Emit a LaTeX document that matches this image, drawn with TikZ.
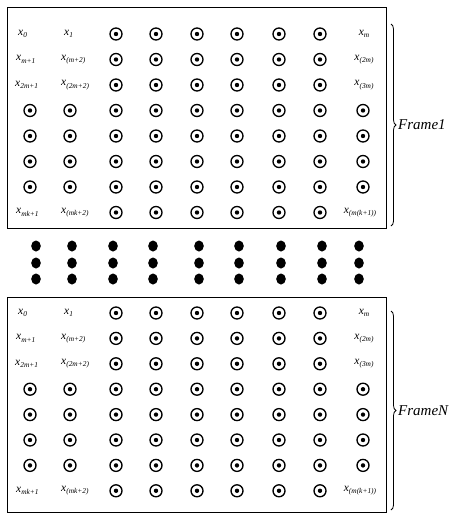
\documentclass[tikz,border=0pt]{standalone}
\usepackage{fontspec}
\setmainfont{Liberation Serif}
\usetikzlibrary{decorations.pathreplacing,shapes.geometric}
\newcommand{\xl}[1]{{\fontsize{11.5}{11.5}\selectfont\itshape x\raisebox{-2.4pt}{\fontsize{7.4}{7.4}\selectfont #1}}}
\begin{document}
\begin{tikzpicture}[x=1pt,y=-1pt,
  ring/.style={circle,draw,line width=1.35pt,minimum size=12pt,inner sep=0pt,
    path picture={\fill (path picture bounding box.center) circle (2.2pt);}},
  bigdot/.style={ellipse,fill,minimum width=9.6pt,minimum height=11pt,inner sep=0pt},
  framebox/.style={draw,line width=1pt},
  lblw/.style={anchor=west,inner sep=0pt},
  lblc/.style={anchor=center,inner sep=0pt},
  bracestyle/.style={decorate,decoration={brace,amplitude=5pt},line width=0.8pt},
  frametxt/.style={anchor=west,inner sep=0pt,font=\fontsize{15}{15}\selectfont\itshape}]
\useasboundingbox (0,0) rectangle (455,517);
\def\colx{{30,70,116,156,197,237,279,320,363}}
% frame drawing macro: #1 name, #2 top, #3 bottom, #4 first row y, #5 row step, #6 brace top, #7 text
\newcommand{\drawframe}[7]{%
  \draw[framebox] (7,#2) rectangle (386,#3);
  \foreach \r in {1,...,8}{
    \foreach \c in {1,...,9}{
      \pgfmathtruncatemacro\islab{((\r<4)||(\r==8))&&((\c<3)||(\c==9))}
      \pgfmathsetmacro\cx{\colx[\c-1]}
      \pgfmathsetmacro\ry{#4+(\r-1)*#5}
      \ifnum\islab=0
        \node[ring] (#1-\r-\c) at (\cx,\ry) {};
      \fi
    }
  }
  \pgfmathsetmacro\ya{#4}
  \pgfmathsetmacro\yb{#4+#5}
  \pgfmathsetmacro\yc{#4+2*#5}
  \pgfmathsetmacro\yd{#4+7*#5}
  \node[lblw] (#1-1-1) at (18,\ya) {\xl{0}};
  \node[lblw] (#1-1-2) at (64,\ya) {\xl{1}};
  \node[lblc] (#1-1-9) at (364,\ya) {\xl{m}};
  \node[lblw] (#1-2-1) at (16,\yb) {\xl{m+1}};
  \node[lblw] (#1-2-2) at (61,\yb) {\xl{(m+2)}};
  \node[lblc] (#1-2-9) at (364,\yb) {\xl{(2m)}};
  \node[lblw] (#1-3-1) at (15,\yc) {\xl{2m+1}};
  \node[lblw] (#1-3-2) at (61,\yc) {\xl{(2m+2)}};
  \node[lblc] (#1-3-9) at (364,\yc) {\xl{(3m)}};
  \node[lblw] (#1-8-1) at (16,\yd) {\xl{mk+1}};
  \node[lblw] (#1-8-2) at (61,\yd) {\xl{(mk+2)}};
  \node[lblc] (#1-8-9) at (360,\yd) {\xl{(m(k+1))}};
  \coordinate (#1-bt) at (391,#6);
  \coordinate (#1-bb) at (391,#3-2);
  \draw[bracestyle] (#1-bt) -- (#1-bb) coordinate[midway] (#1-bm);
  \node[frametxt] (#1-txt) at ([xshift=7pt]#1-bm) {#7};
}
\drawframe{fa}{7}{228}{34}{25.5}{24}{Frame1}
\drawframe{fb}{297}{512}{313}{25.4}{311}{FrameN}
% vertical dots between frames
\def\dotx{{36,72,113,153,199,239,281,322,359}}
\foreach \c in {1,...,9}{
  \pgfmathsetmacro\dx{\dotx[\c-1]}
  \foreach \k/\dy in {1/246,2/263,3/279}{
    \node[bigdot] (d-\c-\k) at (\dx,\dy) {};
  }
}
\end{tikzpicture}
\end{document}
